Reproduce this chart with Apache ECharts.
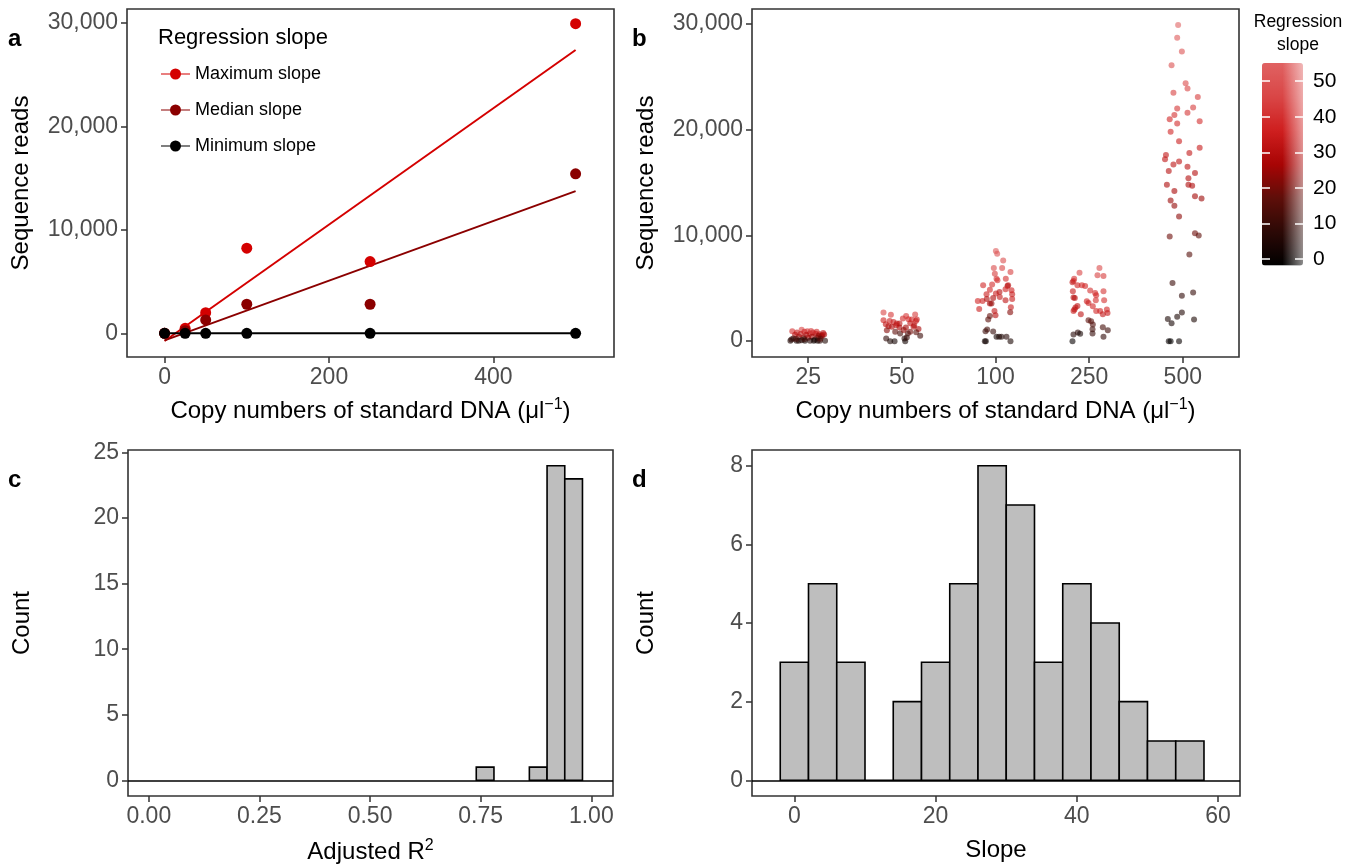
<!DOCTYPE html>
<html>
<head>
<meta charset="utf-8">
<script src="https://cdn.jsdelivr.net/npm/echarts@6/dist/echarts.min.js"></script>
<style>
  html, body { margin: 0; padding: 0; background: #fff; }
  #chart { width: 1360px; height: 868px; }
</style>
</head>
<body>
<div id="chart"></div>
<script>
// ---------- data ----------
// Panel a: reads of three example samples along the standard dilution series
const copyNumbers = [0, 25, 50, 100, 250, 500];
const maxSlopeReads = [0, 480, 2000, 8230, 6940, 29940];
const medianSlopeReads = [0, 250, 1290, 2810, 2810, 15420];
const minSlopeReads = [0, 0, 0, 0, 0, 0];
const exampleNames = ['Maximum slope', 'Median slope', 'Minimum slope'];

// Panel b: reads per standard DNA level, [jitter offset, reads, regression slope]
const copyCategories = ['25', '50', '100', '250', '500'];
const reads25 = [
  [-0.17, 940, 40], [-0.12, 820, 34], [-0.07, 1070, 45], [-0.04, 880, 36], [-0.01, 940, 41],
  [0.02, 720, 30], [0.05, 820, 33], [0.08, 690, 29], [0.12, 660, 28], [0.17, 630, 27],
  [0.14, 470, 22], [-0.10, 410, 20], [-0.05, 350, 18], [0.00, 320, 24], [0.04, 410, 26],
  [0.10, 320, 19], [0.15, 540, 25], [-0.14, 600, 30], [0.09, 880, 38], [0.16, 760, 31],
  [-0.02, 600, 28], [0.03, 950, 43], [0.11, 500, 24], [-0.08, 680, 32], [-0.19, 30, 4],
  [-0.16, 250, 10], [-0.125, 30, 3], [-0.10, 30, 5], [-0.07, 90, 6], [-0.035, 30, 2],
  [0.02, 30, 6], [0.10, 30, 3], [0.125, 30, 7], [0.18, 30, 5], [-0.04, 190, 12],
  [0.07, 120, 9], [0.13, 220, 16], [-0.13, 200, 14], [0.06, 40, 1], [-0.18, 160, 8]
];
const reads50 = [
  [-0.196, 2700, 45], [-0.117, 2490, 42], [-0.196, 1980, 36], [-0.171, 1600, 32], [-0.142, 1420, 30],
  [-0.089, 1820, 34], [-0.053, 1670, 33], [-0.025, 1670, 31], [0.011, 2140, 38], [0.046, 2390, 41],
  [0.071, 2080, 37], [0.107, 2040, 37], [0.142, 2520, 43], [0.160, 2040, 35], [0.132, 1510, 30],
  [0.178, 1160, 27], [-0.160, 1040, 22], [-0.107, 1350, 28], [-0.071, 880, 17], [-0.025, 1290, 27],
  [0.043, 1290, 26], [0.089, 880, 20], [0.125, 1350, 29], [0.153, 850, 16], [0.196, 500, 10],
  [-0.167, 250, 8], [-0.125, 0, 4], [-0.078, 0, 3], [-0.018, 720, 12], [0.028, 250, 6],
  [0.036, 0, 2], [0.064, 720, 14], [0.053, 350, 9], [-0.06, 1500, 31], [0.09, 1700, 33],
  [-0.13, 1900, 35], [0.02, 1050, 24], [0.15, 1900, 34]
];
const reads100 = [
  [0.004, 8520, 52], [0.018, 8270, 50], [0.082, 7640, 48], [-0.018, 6920, 46], [0.071, 6920, 45],
  [0.160, 6540, 44], [-0.007, 6380, 43], [0.011, 5910, 41], [0.110, 5910, 40], [-0.132, 5280, 38],
  [-0.036, 5350, 39], [0.021, 5750, 40], [0.128, 5220, 30], [0.135, 5280, 31], [0.171, 4810, 36],
  [-0.060, 4870, 37], [-0.096, 4430, 35], [0.004, 4500, 35], [0.043, 4650, 30], [0.107, 4900, 36],
  [0.178, 4430, 34], [-0.025, 4090, 28], [0.046, 4180, 33], [0.107, 3870, 32], [-0.189, 3800, 37],
  [-0.139, 3800, 36], [-0.093, 3990, 28], [-0.060, 3550, 27], [-0.043, 3550, 24], [0.178, 3990, 34],
  [-0.174, 3050, 35], [-0.011, 2860, 33], [0.164, 3210, 34], [0.157, 2740, 22], [-0.060, 2390, 18],
  [0.000, 2450, 30], [-0.078, 2040, 16], [-0.089, 1100, 12], [-0.107, 940, 10], [-0.025, 910, 9],
  [0.117, 410, 6], [0.011, 410, 3], [0.039, 410, 4], [0.064, 410, 5], [-0.103, 0, 1],
  [-0.114, 0, 2], [0.160, 0, 4]
];
const reads250 = [
  [-0.103, 6480, 45], [-0.160, 5910, 40], [-0.167, 5690, 38], [-0.178, 5570, 33], [-0.125, 5280, 36],
  [-0.078, 5280, 37], [-0.043, 5220, 36], [0.089, 6230, 44], [0.153, 6160, 43], [0.110, 6920, 47],
  [-0.174, 4720, 34], [-0.167, 4120, 30], [-0.153, 4090, 30], [0.011, 4780, 40], [0.064, 4560, 38],
  [0.075, 4340, 37], [0.153, 4720, 41], [-0.025, 3770, 36], [-0.007, 3620, 35], [0.039, 3300, 37],
  [0.071, 3870, 39], [0.160, 3870, 40], [-0.146, 3180, 33], [-0.125, 3330, 32], [-0.167, 2860, 35],
  [-0.157, 2990, 31], [-0.089, 2550, 32], [0.075, 2860, 38], [0.117, 2860, 36], [0.189, 2990, 37],
  [0.196, 2670, 34], [0.146, 2550, 33], [-0.007, 1980, 17], [0.021, 1890, 15], [0.039, 1570, 14],
  [0.146, 1320, 12], [0.036, 1130, 11], [0.199, 1040, 10], [0.153, 410, 8], [0.036, 720, 9],
  [-0.167, 630, 6], [-0.121, 820, 7], [-0.096, 690, 3], [-0.178, 0, 0]
];
const reads500 = [
  [-0.05, 29900, 55], [-0.06, 28700, 52], [-0.01, 27400, 50], [-0.12, 26100, 49], [0.03, 24400, 47],
  [0.05, 23900, 45], [-0.10, 23500, 44], [0.16, 23100, 43], [-0.06, 22000, 41], [0.11, 22100, 43],
  [0.05, 21600, 41], [-0.09, 21400, 40], [-0.14, 21000, 37], [-0.06, 20600, 39], [0.18, 20800, 39],
  [-0.13, 19800, 37], [-0.04, 18900, 35], [0.18, 18300, 34], [0.07, 17800, 33], [-0.18, 17600, 33],
  [-0.19, 17200, 32], [-0.04, 17000, 32], [-0.10, 16700, 31], [0.05, 16500, 31], [0.13, 15900, 29.5],
  [-0.15, 16100, 29.8], [0.06, 15400, 29], [0.06, 14800, 28], [0.10, 14700, 28], [-0.17, 14800, 28],
  [-0.09, 14200, 27], [0.13, 13700, 26], [0.20, 13500, 25], [-0.13, 13300, 25], [-0.09, 12800, 24],
  [-0.04, 11800, 23], [-0.14, 9900, 19], [0.13, 10200, 19], [0.17, 10000, 17], [0.07, 8200, 15],
  [-0.11, 5500, 10], [-0.01, 4300, 8], [0.11, 4600, 9], [-0.01, 2700, 5], [-0.06, 2300, 4],
  [-0.16, 2100, 4], [-0.12, 1700, 3], [0.12, 2050, 4], [-0.15, 0, 0], [-0.13, 0, -1], [-0.04, 0, 0]
];
const slopeScaleRange = [-1.8, 55.1];
const slopeScaleTicks = [0, 10, 20, 30, 40, 50];

// Panel c: adjusted R² histogram (bin start, count)
const r2BinStarts = [0.74, 0.86, 0.90, 0.94];
const r2Counts = [1, 1, 24, 23];
const r2BinWidth = 0.04;

// Panel d: slope histogram (bin start, count)
const slopeBinStarts = [-2, 2, 6, 10, 14, 18, 22, 26, 30, 34, 38, 42, 46, 50, 54];
const slopeCounts = [3, 5, 3, 0, 2, 3, 5, 8, 7, 3, 5, 4, 2, 1, 1];
const slopeBinWidth = 4;

// ---------- layout & style ----------
const FONT = '"Liberation Sans", Arial, Helvetica, sans-serif';
const TICK_GREY = '#4D4D4D';
const BORDER = '#333333';
const exampleColors = ['#D40000', '#8B0000', '#000000'];
const slopeColors = ['#000000', '#2C0906', '#5E0E09', '#A80404', '#CF1F1F', '#D94646', '#E06262'];

const gridA = { left: 127, top: 9, width: 487, height: 348 };
const gridB = { left: 752, top: 9, width: 487, height: 348 };
const gridC = { left: 128, top: 450, width: 485, height: 346 };
const gridD = { left: 752, top: 450, width: 488, height: 346 };
const gridBar = { left: 1262, top: 63, width: 41, height: 202.5 };

const thousands = v => String(v).replace(/\B(?=(\d{3})+(?!\d))/g, ',');

function fitLine(xs, ys) {
  const n = xs.length;
  const mx = xs.reduce((a, b) => a + b, 0) / n;
  const my = ys.reduce((a, b) => a + b, 0) / n;
  let sxy = 0, sxx = 0;
  for (let i = 0; i < n; i++) { sxy += (xs[i] - mx) * (ys[i] - my); sxx += (xs[i] - mx) ** 2; }
  const slope = sxy / sxx;
  const icpt = my - slope * mx;
  const x0 = Math.min(...xs), x1 = Math.max(...xs);
  return [[x0, icpt + slope * x0], [x1, icpt + slope * x1]];
}

function valueAxis(idx, opts) {
  return Object.assign({
    type: 'value', gridIndex: idx, scale: false,
    splitLine: { show: false },
    axisLine: { show: false, onZero: false },
    axisTick: { show: true, length: 6, lineStyle: { color: BORDER, width: 1.5 } },
    axisLabel: { color: TICK_GREY, fontSize: 23, fontFamily: FONT, margin: 9 },
    nameLocation: 'middle',
    nameTextStyle: { color: '#000', fontSize: 24, fontFamily: FONT }
  }, opts);
}
function withTicks(axis, values, formatter) {
  axis.axisTick.customValues = values;
  axis.axisLabel.customValues = values;
  if (formatter) axis.axisLabel.formatter = formatter;
  return axis;
}

const supRich = { sup: { fontSize: 16, fontFamily: FONT, color: '#000', verticalAlign: 'top', padding: [0, 0, 12, 0] } };

// ---------- axes ----------
const xA = withTicks(valueAxis(0, { min: -45.7, max: 546.7, name: 'Copy numbers of standard DNA (μl{sup|−1})', nameGap: 40 }), [0, 200, 400]);
xA.nameTextStyle.rich = supRich;
const yA = withTicks(valueAxis(0, { min: -2290, max: 31360, name: 'Sequence reads', nameGap: 94 }), [0, 10000, 20000, 30000], thousands);

const xB = withTicks(valueAxis(1, { min: 0.4, max: 5.6, name: 'Copy numbers of standard DNA (μl{sup|−1})', nameGap: 40 }), [1, 2, 3, 4, 5], v => copyCategories[Math.round(v) - 1]);
xB.nameTextStyle.rich = supRich;
const yB = withTicks(valueAxis(1, { min: -1500, max: 31420, name: 'Sequence reads', nameGap: 94 }), [0, 10000, 20000, 30000], thousands);

const xC = withTicks(valueAxis(2, { min: -0.047, max: 1.049, name: 'Adjusted R{sup|2}', nameGap: 42 }), [0, 0.25, 0.5, 0.75, 1], v => v.toFixed(2));
xC.nameTextStyle.rich = supRich;
const yC = withTicks(valueAxis(2, { min: -1.2, max: 25.2, name: 'Count', nameGap: 94 }), [0, 5, 10, 15, 20, 25]);

const xD = withTicks(valueAxis(3, { min: -6.0, max: 63.1, name: 'Slope', nameGap: 42 }), [0, 20, 40, 60]);
const yD = withTicks(valueAxis(3, { min: -0.4, max: 8.4, name: 'Count', nameGap: 94 }), [0, 2, 4, 6, 8]);

// colour bar scale (right labels, white ticks on both edges)
const xBar = { type: 'value', gridIndex: 4, show: false, min: 0, max: 1 };
const yBarR = {
  type: 'value', gridIndex: 4, position: 'right', min: slopeScaleRange[0], max: slopeScaleRange[1], z: 10,
  splitLine: { show: false }, axisLine: { show: false, onZero: false },
  axisTick: { show: true, inside: true, length: 8, customValues: slopeScaleTicks, lineStyle: { color: '#fff', width: 1.5 } },
  axisLabel: { customValues: slopeScaleTicks, color: '#000', fontSize: 21, fontFamily: FONT, margin: 10 }
};
const yBarL = {
  type: 'value', gridIndex: 4, position: 'left', min: slopeScaleRange[0], max: slopeScaleRange[1], z: 10,
  splitLine: { show: false }, axisLine: { show: false, onZero: false }, axisLabel: { show: false },
  axisTick: { show: true, inside: true, length: 8, customValues: slopeScaleTicks, lineStyle: { color: '#fff', width: 1.5 } }
};

// ---------- series ----------
const exampleReads = [maxSlopeReads, medianSlopeReads, minSlopeReads];
const series = [];
exampleReads.forEach((ys, i) => {
  series.push({
    type: 'line', name: exampleNames[i], xAxisIndex: 0, yAxisIndex: 0, z: 2,
    data: fitLine(copyNumbers, ys), showSymbol: false, symbol: 'none',
    lineStyle: { color: exampleColors[i], width: 2 }, itemStyle: { color: exampleColors[i] },
    silent: true
  });
});
exampleReads.forEach((ys, i) => {
  series.push({
    type: 'scatter', name: exampleNames[i], xAxisIndex: 0, yAxisIndex: 0, z: 3 + i,
    data: copyNumbers.map((x, k) => [x, ys[k]]), symbolSize: 11,
    itemStyle: { color: exampleColors[i], opacity: 1 }
  });
});

const jittered = [];
[reads25, reads50, reads100, reads250, reads500].forEach((pts, c) => {
  pts.forEach(p => jittered.push([c + 1 + p[0], p[1], p[2]]));
});
const jitterIndex = series.length;
series.push({
  type: 'scatter', name: 'reads', xAxisIndex: 1, yAxisIndex: 1, z: 3,
  data: jittered, symbolSize: 6, itemStyle: { opacity: 0.6 }
});

function histItem(params, api) {
  const lo = api.coord([api.value(0), api.value(2)]);
  const hi = api.coord([api.value(1), 0]);
  return {
    type: 'rect',
    shape: { x: lo[0], y: lo[1], width: hi[0] - lo[0], height: hi[1] - lo[1] },
    style: { fill: '#BEBEBE', stroke: '#000', lineWidth: 1.6 }
  };
}
const zeroLine = {
  silent: true, symbol: 'none', label: { show: false },
  lineStyle: { color: '#000', width: 1.6, type: 'solid' }, data: [{ yAxis: 0 }]
};
series.push({
  type: 'custom', xAxisIndex: 2, yAxisIndex: 2, renderItem: histItem,
  encode: { x: [0, 1], y: 2 },
  data: r2BinStarts.map((s, i) => [s, s + r2BinWidth, r2Counts[i]]),
  markLine: zeroLine
});
series.push({
  type: 'custom', xAxisIndex: 3, yAxisIndex: 3, renderItem: histItem,
  encode: { x: [0, 1], y: 2 },
  data: slopeBinStarts.map((s, i) => [s, s + slopeBinWidth, slopeCounts[i]]),
  markLine: zeroLine
});

const legendIcon = 'path://M0,5.4L29,5.4L29,6.6L0,6.6Z M14.5,0.5A5.5,5.5 0 1 1 14.49,0.5Z';

const tag = (t, x, y) => ({ type: 'text', x, y, style: { text: t, font: 'bold 24px ' + FONT, fill: '#000', textVerticalAlign: 'alphabetic' } });

const option = {
  animation: false,
  backgroundColor: '#fff',
  grid: [gridA, gridB, gridC, gridD, gridBar].map((g, i) => Object.assign({
    show: i < 4, borderColor: BORDER, borderWidth: i < 4 ? 1.6 : 0, containLabel: false
  }, g)),
  xAxis: [xA, xB, xC, xD, xBar],
  yAxis: [yA, yB, yC, yD, yBarR, yBarL],
  legend: {
    left: 161, top: 64, orient: 'vertical', padding: 0,
    itemWidth: 29, itemHeight: 11, itemGap: 16,
    data: exampleNames.map(n => ({ name: n, icon: legendIcon })),
    textStyle: { fontSize: 18, fontFamily: FONT, color: '#000', lineHeight: 20 },
    selectedMode: false
  },
  visualMap: {
    type: 'continuous', seriesIndex: jitterIndex, dimension: 2,
    min: slopeScaleRange[0], max: slopeScaleRange[1],
    left: gridBar.left, top: gridBar.top, itemWidth: gridBar.width, itemHeight: gridBar.height,
    padding: 0, calculable: false, text: null, showLabel: false, hoverLink: false,
    inRange: { color: slopeColors }
  },
  graphic: [
    tag('a', 8, 27), tag('b', 632, 27), tag('c', 8, 468), tag('d', 632, 468),
    { type: 'text', x: 158, y: 38, style: { text: 'Regression slope', font: '22px ' + FONT, fill: '#000', textVerticalAlign: 'middle' } },
    { type: 'text', x: 1298, y: 22, style: { text: 'Regression', font: '17.5px ' + FONT, fill: '#000', textAlign: 'center', textVerticalAlign: 'middle' } },
    { type: 'text', x: 1298, y: 45, style: { text: 'slope', font: '17.5px ' + FONT, fill: '#000', textAlign: 'center', textVerticalAlign: 'middle' } },
    {
      type: 'rect', z: 6, silent: true,
      shape: { x: gridBar.left + gridBar.width * 0.5, y: gridBar.top, width: gridBar.width * 0.5, height: gridBar.height },
      style: { fill: new echarts.graphic.LinearGradient(0, 0, 1, 0, [
        { offset: 0, color: 'rgba(255,255,255,0)' }, { offset: 1, color: 'rgba(255,255,255,0.55)' }]) }
    }
  ],
  series
};

const chart = echarts.init(document.getElementById('chart'), null, { renderer: 'canvas' });
chart.setOption(option);
</script>
</body>
</html>
